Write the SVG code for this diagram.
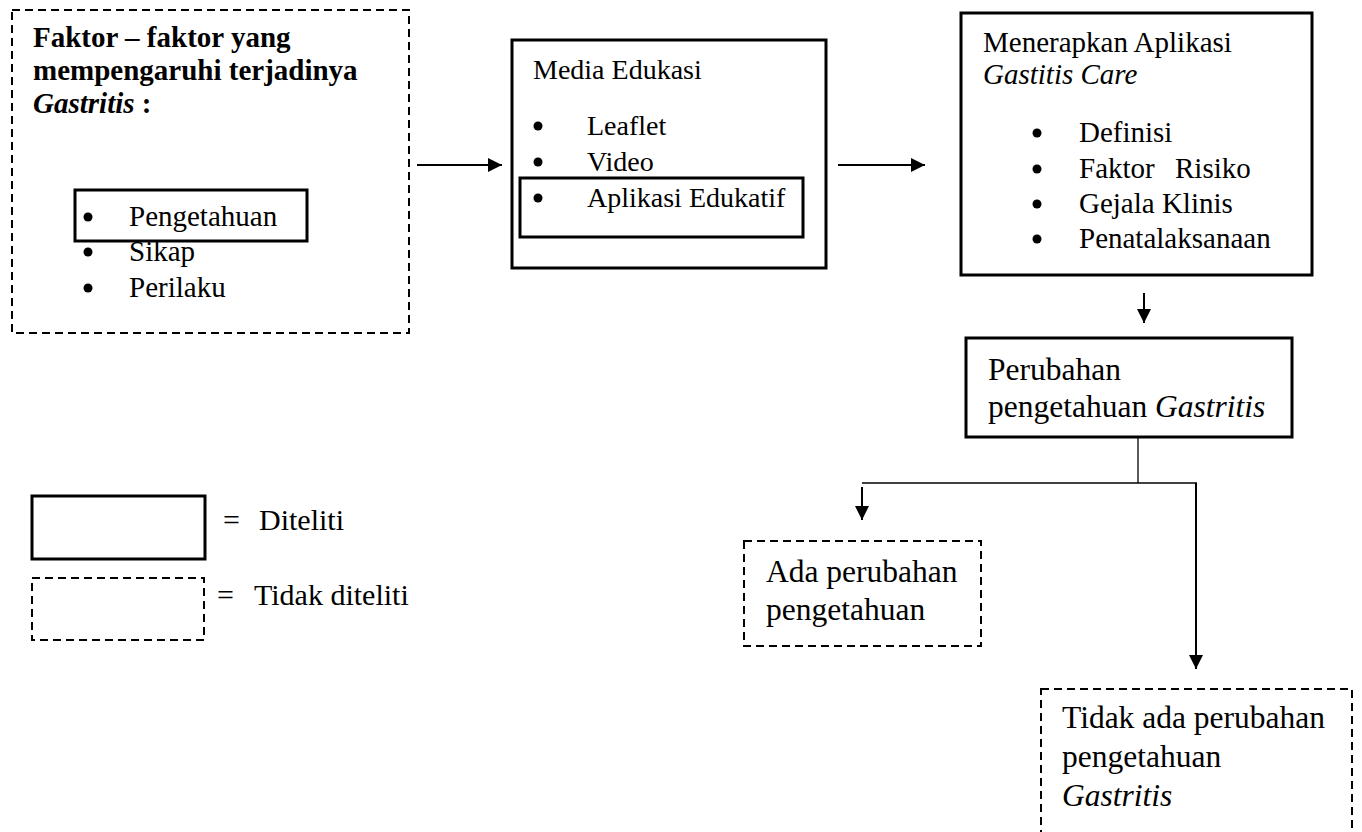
<svg xmlns="http://www.w3.org/2000/svg" width="1362" height="832" viewBox="0 0 1362 832">
<style>
text{font-family:"Liberation Serif","Times New Roman",serif;fill:#000}
.b{font-weight:bold}
.i{font-style:italic}
.solid{fill:none;stroke:#000;stroke-width:3}
.dash{fill:none;stroke:#000;stroke-width:2;stroke-dasharray:8 5}
.ln{fill:none;stroke:#000;stroke-width:2}
.thin{fill:none;stroke:#000;stroke-width:1.3}
.dot{fill:#000}
</style>
<defs>
<marker id="ah" viewBox="0 0 10 10" refX="10" refY="5" markerWidth="7" markerHeight="7" markerUnits="strokeWidth" orient="auto">
<path d="M0,0 L10,5 L0,10 Z" fill="#000"/>
</marker>
</defs>
<rect width="1362" height="832" fill="#fff"/>

<g id="faktor">
<rect class="dash" x="12" y="10" width="397" height="323"/>
<text class="b" font-size="29"><tspan x="33" y="47">Faktor – faktor yang</tspan><tspan x="33" y="80">mempengaruhi terjadinya</tspan><tspan x="33" y="113"><tspan class="i">Gastritis</tspan> :</tspan></text>
<rect class="solid" x="75" y="190" width="232" height="51"/>
<g font-size="29">
<circle class="dot" cx="88" cy="217" r="4.5"/><text x="129" y="226">Pengetahuan</text>
<circle class="dot" cx="88" cy="252" r="4.5"/><text x="129" y="261">Sikap</text>
<circle class="dot" cx="88" cy="288" r="4.5"/><text x="129" y="297">Perilaku</text>
</g>
</g>

<g id="media">
<rect class="solid" x="512" y="40" width="314" height="228"/>
<rect class="solid" x="520" y="178" width="283" height="59"/>
<g font-size="28">
<text x="533" y="79">Media Edukasi</text>
<circle class="dot" cx="538" cy="126" r="4.5"/><text x="587" y="135">Leaflet</text>
<circle class="dot" cx="538" cy="162" r="4.5"/><text x="587" y="171">Video</text>
<circle class="dot" cx="538" cy="198" r="4.5"/><text x="587" y="207">Aplikasi Edukatif</text>
</g>
</g>

<g id="aplikasi">
<rect class="solid" x="961" y="13" width="351" height="262"/>
<g font-size="29">
<text x="983" y="52">Menerapkan Aplikasi</text>
<text class="i" x="983" y="84">Gastitis Care</text>
<circle class="dot" cx="1037" cy="133" r="4.5"/><text x="1079" y="142">Definisi</text>
<circle class="dot" cx="1037" cy="169" r="4.5"/><text x="1079" y="178">Faktor<tspan x="1175">Risiko</tspan></text>
<circle class="dot" cx="1037" cy="204" r="4.5"/><text x="1079" y="213">Gejala Klinis</text>
<circle class="dot" cx="1037" cy="239" r="4.5"/><text x="1079" y="248">Penatalaksanaan</text>
</g>
</g>

<g id="perubahan">
<rect class="solid" x="966" y="338" width="326" height="99"/>
<text font-size="31.5"><tspan x="988" y="380">Perubahan</tspan><tspan x="988" y="417">pengetahuan <tspan class="i">Gastritis</tspan></tspan></text>
</g>

<g id="ada">
<rect class="dash" x="744" y="541" width="237" height="105"/>
<text font-size="31.5"><tspan x="766" y="582">Ada perubahan</tspan><tspan x="766" y="620">pengetahuan</tspan></text>
</g>

<g id="tidak">
<rect class="dash" x="1041" y="689" width="311" height="160"/>
<text font-size="31.5"><tspan x="1062" y="728">Tidak ada perubahan</tspan><tspan x="1062" y="767">pengetahuan</tspan><tspan class="i" x="1062" y="806">Gastritis</tspan></text>
</g>

<g id="legend">
<rect class="solid" x="32" y="496" width="173" height="63"/>
<text font-size="30" x="223" y="530">=</text>
<text font-size="30" x="259" y="530">Diteliti</text>
<rect class="dash" x="32" y="578" width="172" height="62"/>
<text font-size="30" x="217" y="605">=</text>
<text font-size="30" x="254" y="605">Tidak diteliti</text>
</g>

<g id="connectors">
<line class="ln" x1="417" y1="165" x2="502" y2="165" marker-end="url(#ah)"/>
<line class="ln" x1="838" y1="165" x2="925" y2="165" marker-end="url(#ah)"/>
<line class="ln" x1="1144" y1="293" x2="1144" y2="323" marker-end="url(#ah)"/>
<line class="thin" x1="1138" y1="437" x2="1138" y2="483"/>
<line class="thin" x1="862" y1="483" x2="1197" y2="483"/>
<line class="ln" x1="862" y1="487" x2="862" y2="520" marker-end="url(#ah)"/>
<line class="ln" x1="1196" y1="483" x2="1196" y2="669" marker-end="url(#ah)"/>
</g>
</svg>
